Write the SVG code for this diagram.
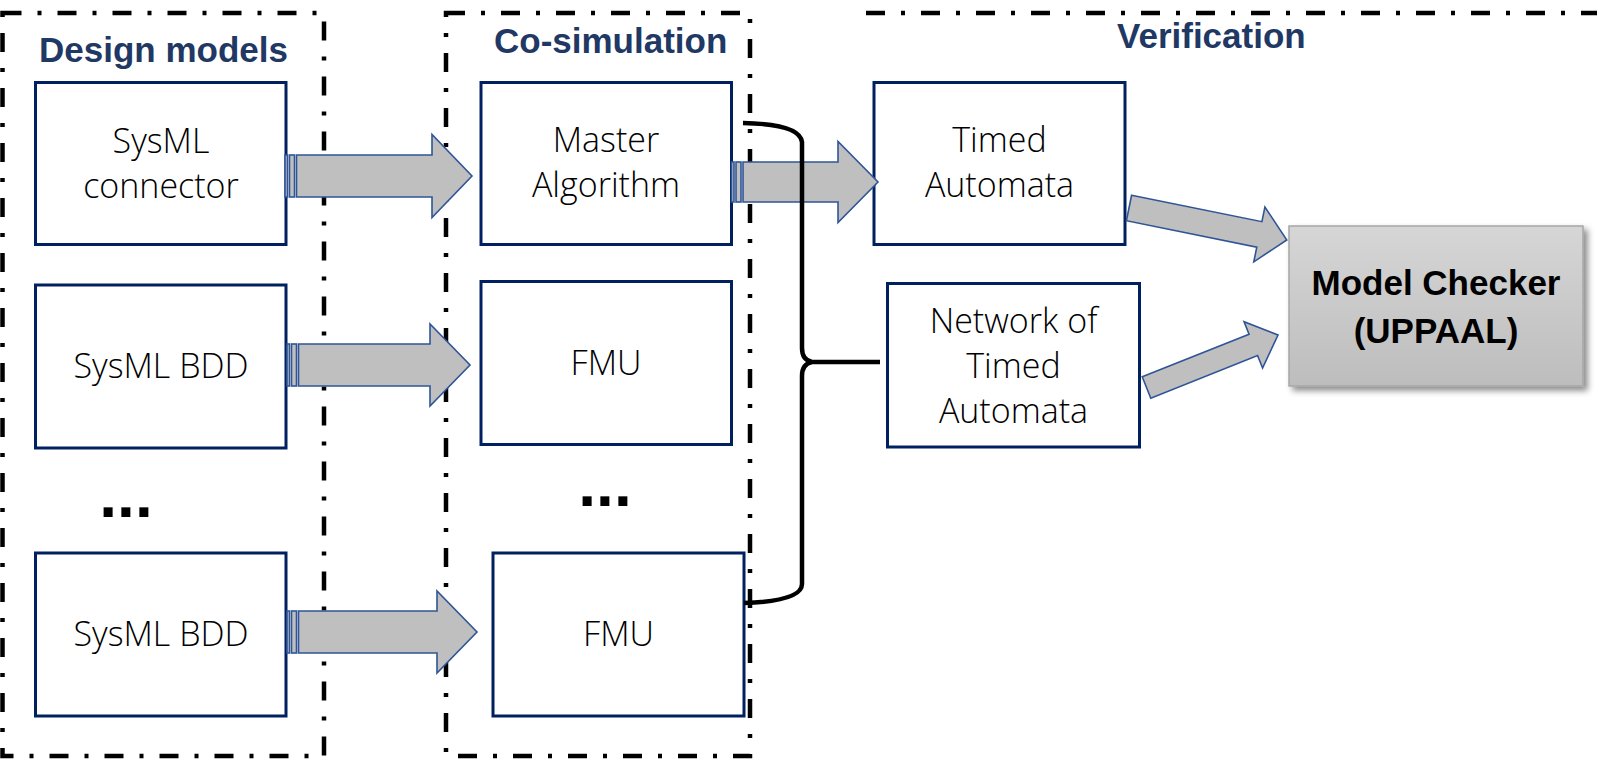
<svg xmlns="http://www.w3.org/2000/svg" width="1599" height="761" viewBox="0 0 1599 761">
<style>
.frame{fill:none;stroke:#000;stroke-width:4.5;stroke-dasharray:19 16 4 16}
.box{fill:#fff;stroke:#002060;stroke-width:3}
.hdr{font-family:"Liberation Sans",Arial,sans-serif;font-weight:700;font-size:35px;fill:#1F3864}
.lbl{font-family:"Open Sans","Noto Sans",sans-serif;font-weight:300;font-size:34px;fill:#000;text-anchor:middle}
.dots{font-family:"Liberation Sans",Arial,sans-serif;font-weight:700;font-size:64px;fill:#000;text-anchor:middle}
.arr{fill:#BFBFBF;stroke:#2F5597;stroke-width:1.6;stroke-linejoin:miter}
.brace{fill:none;stroke:#000;stroke-width:4.5;stroke-linecap:butt}
.mctxt{font-family:"Liberation Sans",Arial,sans-serif;font-weight:700;font-size:35px;fill:#000;text-anchor:middle}
</style>
<defs>
<linearGradient id="mcgrad" x1="0" y1="0" x2="0" y2="1">
<stop offset="0" stop-color="#D6D6D6"/>
<stop offset="1" stop-color="#BDBDBD"/>
</linearGradient>
<filter id="shadow" x="-10%" y="-10%" width="125%" height="130%">
<feDropShadow dx="4" dy="4" stdDeviation="3" flood-color="#000" flood-opacity="0.45"/>
</filter>
</defs>
<rect width="1599" height="761" fill="#fff"/>

<g id="frames">
<rect class="frame" x="2.5" y="13" width="321.5" height="743"/>
<rect class="frame" x="446" y="13" width="304" height="743"/>
<line class="frame" x1="866" y1="13" x2="1597" y2="13"/>
<text class="hdr" x="39" y="62">Design models</text>
<text class="hdr" x="494" y="53">Co-simulation</text>
<text class="hdr" x="1117" y="48">Verification</text>
</g>

<g id="node-sysml-connector">
<rect class="box" x="35.5" y="82.5" width="250.5" height="162"/>
<text class="lbl" x="161" y="153">SysML</text>
<text class="lbl" x="161" y="198">connector</text>
</g>
<g id="node-sysml-bdd-1">
<rect class="box" x="35.5" y="285" width="250.5" height="163"/>
<text class="lbl" x="161" y="378">SysML BDD</text>
</g>
<text class="dots" x="126" y="517">...</text>
<g id="node-sysml-bdd-2">
<rect class="box" x="35.5" y="553" width="250.5" height="163"/>
<text class="lbl" x="161" y="646">SysML BDD</text>
</g>

<g id="node-master">
<rect class="box" x="481" y="82.5" width="250.5" height="162"/>
<text class="lbl" x="606" y="152">Master</text>
<text class="lbl" x="606" y="197">Algorithm</text>
</g>
<g id="node-fmu-1">
<rect class="box" x="481" y="281.5" width="250.5" height="163"/>
<text class="lbl" x="606" y="375">FMU</text>
</g>
<text class="dots" x="605" y="506">...</text>
<g id="node-fmu-2">
<rect class="box" x="493" y="553" width="251" height="163"/>
<text class="lbl" x="618.5" y="646">FMU</text>
</g>

<g id="node-timed-automata">
<rect class="box" x="874" y="82.5" width="251" height="162"/>
<text class="lbl" x="999.5" y="152">Timed</text>
<text class="lbl" x="999.5" y="197">Automata</text>
</g>
<g id="node-network">
<rect class="box" x="887.5" y="283.5" width="252" height="163.5"/>
<text class="lbl" x="1013.5" y="333">Network of</text>
<text class="lbl" x="1013.5" y="378">Timed</text>
<text class="lbl" x="1013.5" y="423">Automata</text>
</g>

<g id="node-model-checker">
<rect x="1289" y="226" width="294" height="160" fill="url(#mcgrad)" stroke="#A6A6A6" stroke-width="1.5" filter="url(#shadow)"/>
<text class="mctxt" x="1436" y="295">Model Checker</text>
<text class="mctxt" x="1436" y="343">(UPPAAL)</text>
</g>

<g id="connectors">
<g transform="translate(285,176)">
<rect class="arr" x="0" y="-21" width="2.5" height="42"/>
<rect class="arr" x="4.5" y="-21" width="5" height="42"/>
<polygon class="arr" points="11.5,-21 147,-21 147,-41.5 187,0 147,41.5 147,21 11.5,21"/>
</g>
<g transform="translate(287,365)">
<rect class="arr" x="0" y="-21" width="2.5" height="42"/>
<rect class="arr" x="4.5" y="-21" width="5" height="42"/>
<polygon class="arr" points="11.5,-21 143,-21 143,-41 183,0 143,41 143,21 11.5,21"/>
</g>
<g transform="translate(287,632)">
<rect class="arr" x="0" y="-21" width="2.5" height="42"/>
<rect class="arr" x="4.5" y="-21" width="5" height="42"/>
<polygon class="arr" points="11.5,-21 150,-21 150,-41 190,0 150,41 150,21 11.5,21"/>
</g>
<g transform="translate(731,182)">
<rect class="arr" x="0.5" y="-20" width="2.5" height="40"/>
<rect class="arr" x="5" y="-20" width="5" height="40"/>
<polygon class="arr" points="12,-20 107,-20 107,-40.5 147,0 107,40.5 107,20 12,20"/>
</g>
<g transform="translate(1129,208) rotate(11.45)">
<polygon class="arr" points="0,-13 133,-13 133,-28 161,0 133,28 133,13 0,13"/>
</g>
<g transform="translate(1146.5,387.5) rotate(-21.76)">
<polygon class="arr" points="0,-11.5 115,-11.5 115,-25 141.6,0 115,25 115,11.5 0,11.5"/>
</g>
<path class="brace" d="M743,123 Q800,124 802,142 L802,348 Q802,360 812,362 L880,362 M812,362 Q802,364 802,376 L802,584 Q802,601 744,603"/>
</g>
</svg>
